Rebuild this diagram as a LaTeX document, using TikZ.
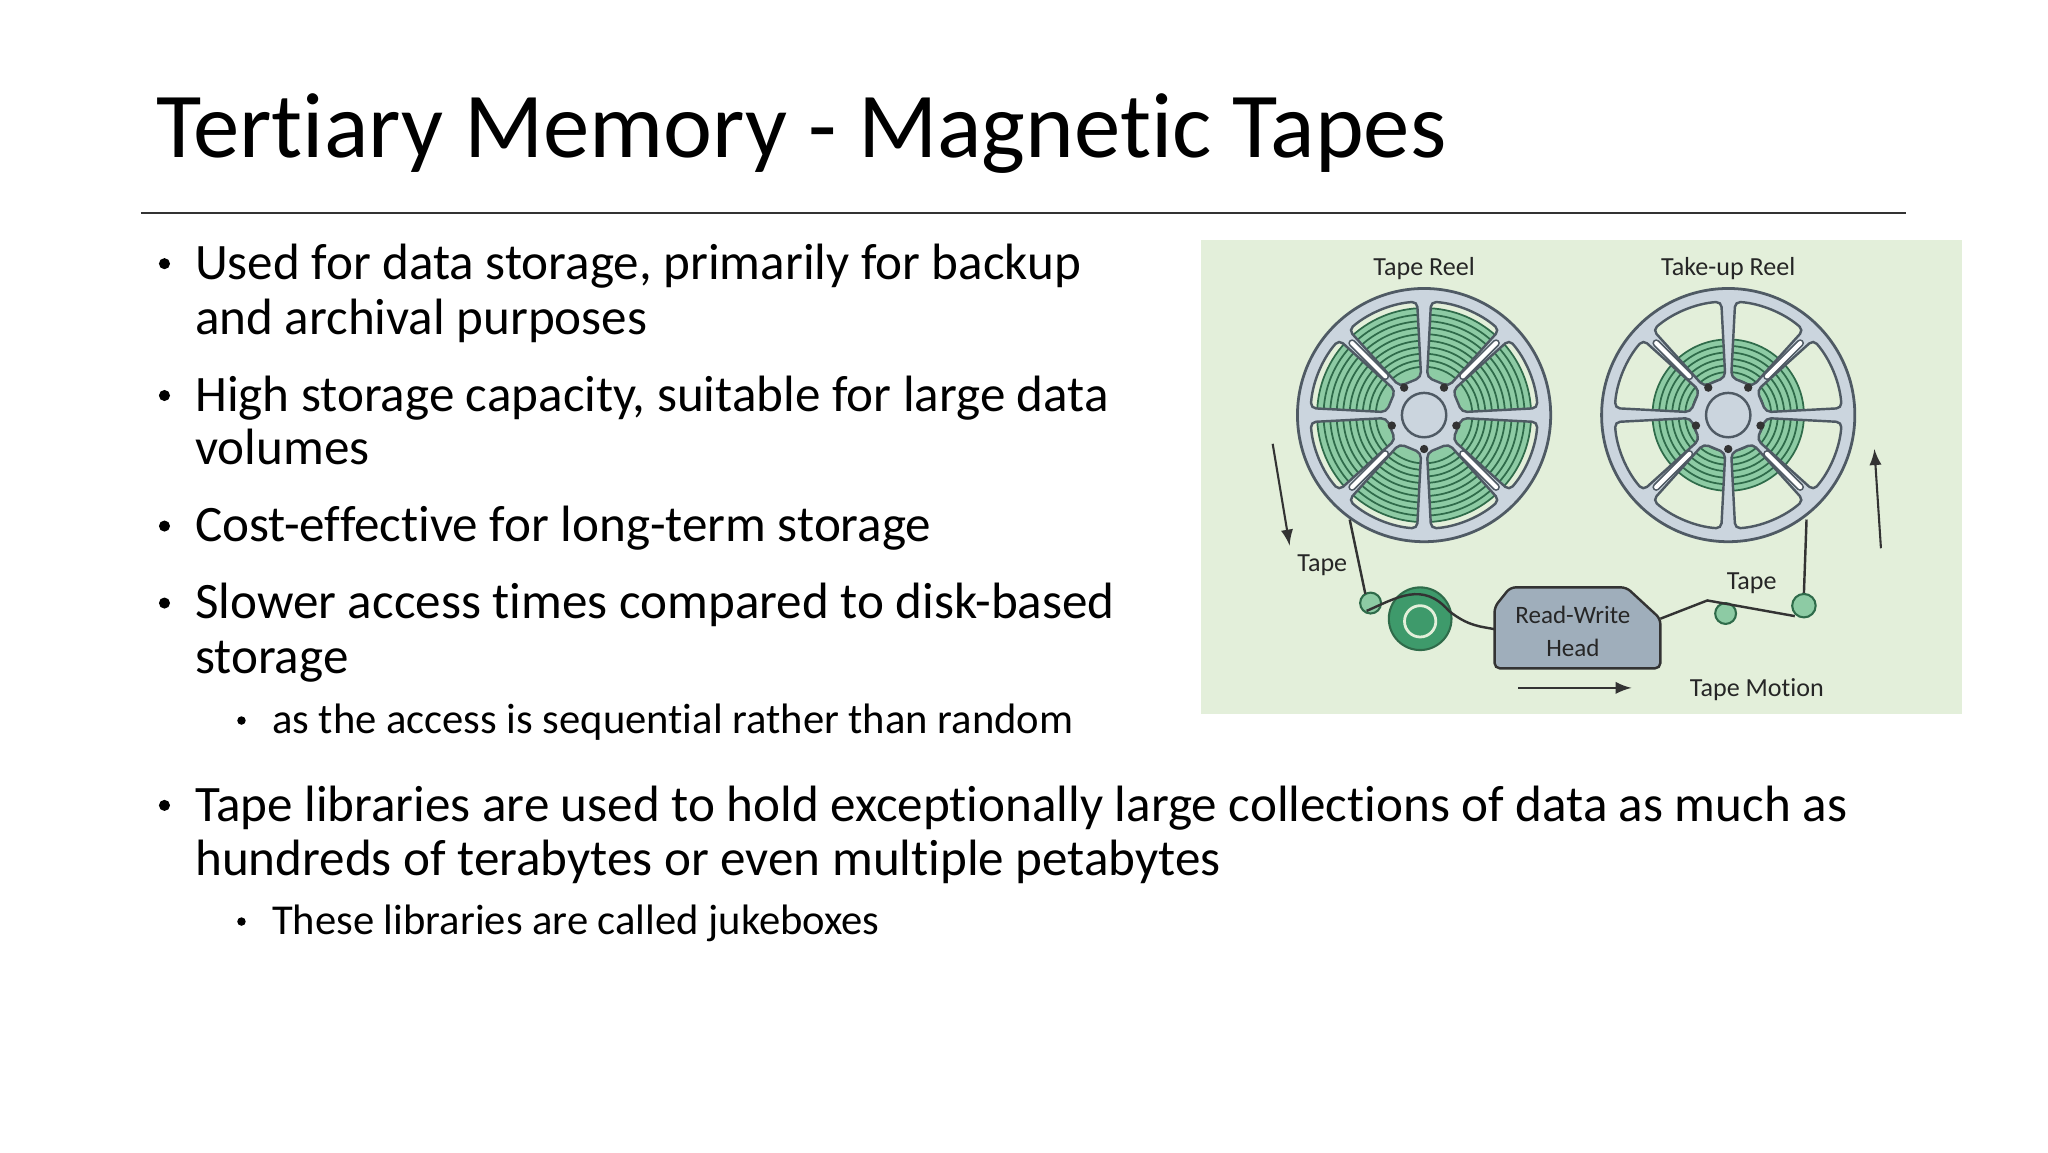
\documentclass[tikz,border=0pt]{standalone}
\usepackage{fontspec}
\setmainfont[Ligatures=NoCommon]{Carlito}
\definecolor{bg}{HTML}{E3EFDA}
\definecolor{reel}{HTML}{CBD5DE}
\definecolor{reeld}{HTML}{4F5A64}
\definecolor{tape}{HTML}{8DCBA4}
\definecolor{taped}{HTML}{2F6B4A}
\definecolor{roll}{HTML}{3E9A6B}
\definecolor{headc}{HTML}{9FAEBB}
\definecolor{ink}{HTML}{333333}
\tikzset{
  bul/.style={anchor=base west,font=\fontsize{14.7}{17}\selectfont,inner sep=0},
  sbul/.style={anchor=base west,font=\fontsize{12.25}{14}\selectfont,inner sep=0},
  dot/.style={circle,fill=black,inner sep=0,minimum size=#1*0.013196cm},
  lab/.style={font=\fontsize{7.5}{9}\selectfont,text=black!85,inner sep=0},
  tapeline/.style={draw=ink,line width=0.7pt},
  roller/.style={circle,draw=taped,fill=tape,line width=0.6pt,minimum size=#1*0.013196cm,inner sep=0},
}
\newcommand{\myreel}[3]{% center x, center y, tape radius
 \begin{scope}[shift={(#1,#2)}]
  \fill[reel,draw=reeld,line width=0.8pt] (0,0) circle[radius=97];
  \foreach \a in {22.5,67.5,...,337.5}{
   \begin{scope}
   \path[clip,rounded corners=1.5pt] (\a-18:29) -- (\a-19:87) arc[start angle=\a-19,end angle=\a+19,radius=87] -- (\a+18:29) -- cycle;
   \fill[bg] (0,0) circle[radius=97];
   \fill[tape] (0,0) circle[radius=#3];
   \foreach \r in {0,5,...,45} \draw[taped,line width=0.5pt] (0,0) circle[radius=#3-\r];
   \end{scope}
   \draw[reeld,line width=0.7pt,rounded corners=1.5pt] (\a-18:29) -- (\a-19:87) arc[start angle=\a-19,end angle=\a+19,radius=87] -- (\a+18:29) -- cycle;
  }
  \foreach \a in {45,135,225,315}
   \draw[reeld,double=white,double distance=1.2pt,line width=0.5pt,line cap=round] (\a:42) -- (\a:78);
  \draw[reeld,fill=reel,line width=0.7pt] (0,0) circle[radius=17];
  \foreach \a in {90,162,234,306,18}
   \fill[ink] (\a:26) circle[radius=3.2];
 \end{scope}}
\begin{document}
\begin{tikzpicture}[x=0.013196cm,y=-0.013196cm]
\useasboundingbox (0,0) rectangle (1569,882.6);
\fill[white] (0,0) rectangle (1569,882.6);
\node[anchor=base west,inner sep=0,font=\fontsize{26.7}{30}\selectfont] (title) at (119,121) {Tertiary Memory - Magnetic Tapes};
\draw[ink,line width=0.6pt] (108,163) coordinate (r1) -- (1460,163) coordinate (r2);
% bullets
\foreach \y in {202,303,403,462,617} \node[dot=8.5] at (126,\y) {};
\foreach \y in {552,706} \node[dot=6.5] at (185,\y) {};
\node[bul] (b1) at (149,214) {Used for data storage, primarily for backup};
\node[bul] (b1b) at (149,256) {and archival purposes};
\node[bul] (b2) at (149,315) {High storage capacity, suitable for large data};
\node[bul] (b2b) at (149,356) {volumes};
\node[bul] (b3) at (149,415) {Cost-effective for long-term storage};
\node[bul] (b4) at (149,474) {Slower access times compared to disk-based};
\node[bul] (b4b) at (149,516) {storage};
\node[sbul] (s1) at (208,562) {as the access is sequential rather than random};
\node[bul] (b5) at (149,629) {Tape libraries are used to hold exceptionally large collections of data as much as};
\node[bul] (b5b) at (149,671) {hundreds of terabytes or even multiple petabytes};
\node[sbul] (s2) at (208,716) {These libraries are called jukeboxes};
% diagram
\fill[bg] (920,184) rectangle (1503,547);
\node[lab] (l1) at (1091,206) {Tape Reel};
\node[lab] (l2) at (1324,206) {Take-up Reel};
\myreel{1091}{318}{82}
\myreel{1324}{318}{58}
\node[roller=16] (ra) at (1050,462) {};
\node[circle,draw=taped,fill=roll,line width=0.6pt,minimum size=48*0.013196cm,inner sep=0] (big) at (1088,474) {};
\node[circle,draw=bg,fill=roll,line width=0.8pt,minimum size=24*0.013196cm,inner sep=0] (bigi) at (1088,476) {};
\draw[ink,fill=headc,line width=0.7pt,rounded corners=1.5pt] (1145,512) -- (1145,465) -- (1157,450) -- (1246,450) -- (1272,474) -- (1272,512) -- cycle;
\node[lab,align=center,font=\fontsize{7.2}{9.5}\selectfont] (hl) at (1205,484) {Read-Write\\Head};
\node[roller=16] (rb) at (1322,470) {};
\node[roller=18] (rc) at (1382,464) {};
\coordinate (t1) at (1034,398);
\coordinate (t2) at (1384,398);
\draw[tapeline] (t1) -- (1046,455);
\draw[tapeline] (1047,468) .. controls (1070,458) and (1090,445) .. (1110,468) .. controls (1125,480) and (1135,480) .. (1145,482);
\draw[tapeline] (1272,474) -- (1308,460) -- (1375,472);
\draw[tapeline] (rc.north) -- (t2);
\node[lab] (tp1) at (1013,433) {Tape};
\node[lab] (tp2) at (1342,447) {Tape};
\coordinate (a1) at (975,340); \coordinate (a2) at (988,418);
\draw[ink,line width=0.6pt,-latex] (a1) -- (a2);
\coordinate (a3) at (1441,420); \coordinate (a4) at (1436,344);
\draw[ink,line width=0.6pt,-latex] (a3) -- (a4);
\coordinate (m1) at (1163,527); \coordinate (m2) at (1250,527);
\draw[ink,line width=0.6pt,-latex] (m1) -- (m2);
\node[lab] (tm) at (1346,528) {Tape Motion};
\end{tikzpicture}
\end{document}
